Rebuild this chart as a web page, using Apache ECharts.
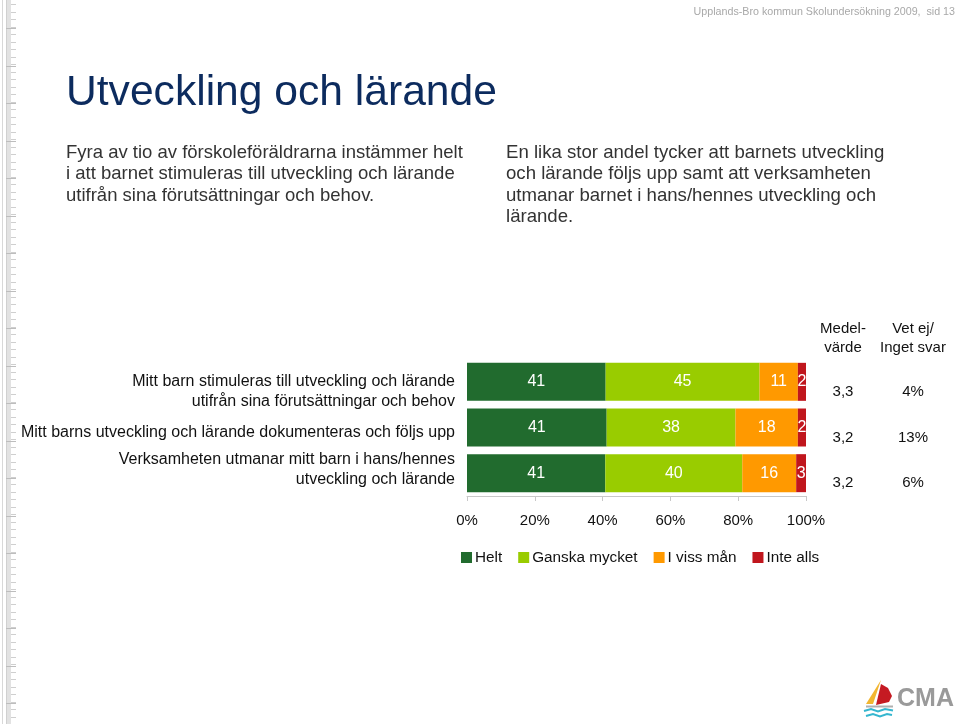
<!DOCTYPE html>
<html>
<head>
<meta charset="utf-8">
<script src="https://cdn.jsdelivr.net/npm/echarts@6/dist/echarts.min.js"></script>
<style>
html,body{margin:0;padding:0;background:#fff;}
#c{width:960px;height:724px;}
</style>
</head>
<body>
<div id="c"></div>
<script>
// ---- data ----
var categories = [
  'Mitt barn stimuleras till utveckling och lärande\nutifrån sina förutsättningar och behov',
  'Mitt barns utveckling och lärande dokumenteras och följs upp',
  'Verksamheten utmanar mitt barn i hans/hennes\nutveckling och lärande'
];
var seriesNames = ['Helt', 'Ganska mycket', 'I viss mån', 'Inte alls'];
var helt = [40.9, 41.2, 40.8];
var ganska = [45.4, 38.0, 40.4];
var vissMan = [11.3, 18.4, 15.9];
var inteAlls = [2.4, 2.4, 2.9];
var medelvarde = ['3,3', '3,2', '3,2'];
var vetEj = ['4%', '13%', '6%'];
var xTicks = [0, 20, 40, 60, 80, 100];

var colors = ['#216B2E', '#99CC00', '#FF9900', '#C0161D'];
var FONT = '"Liberation Sans", Arial, Helvetica, sans-serif';

var chart = echarts.init(document.getElementById('c'), null, {renderer: 'canvas'});

function mkSeries(name, data, idx) {
  return {
    name: name,
    type: 'bar',
    stack: 'total',
    data: data,
    barWidth: 38,
    itemStyle: {color: colors[idx]},
    label: {
      show: true,
      position: 'inside',
      color: '#fff',
      fontSize: 16,
      fontFamily: FONT,
      formatter: function (p) { return Math.round(p.value); }
    },
    emphasis: {disabled: true}
  };
}

// left ruler decoration
var ruler = [];
ruler.push({type: 'line', shape: {x1: 2.5, y1: 0, x2: 2.5, y2: 724}, style: {stroke: '#d8d8d8', lineWidth: 1}});
ruler.push({type: 'line', shape: {x1: 6.5, y1: 0, x2: 6.5, y2: 724}, style: {stroke: '#d0d0d0', lineWidth: 1}});
ruler.push({type: 'rect', shape: {x: 7, y: 0, width: 4, height: 724}, style: {fill: '#e2e2e2'}});
for (var ty = 4; ty < 724; ty += 7.5) {
  ruler.push({type: 'line', shape: {x1: 11, y1: Math.round(ty) + 0.5, x2: 16, y2: Math.round(ty) + 0.5}, style: {stroke: '#cfcfcf', lineWidth: 1}});
}
for (var ly = 28; ly < 724; ly += 37.5) {
  ruler.push({type: 'line', shape: {x1: 6, y1: Math.round(ly) + 0.5, x2: 16, y2: Math.round(ly) + 0.5}, style: {stroke: '#bdbdbd', lineWidth: 1}});
}

// vertical shifts for category labels (spacer line heights: [top, bottom])
var labelSpacers = [[20, 0], [10, 0], [0, 7]];
var richCat = {t: {fontSize: 16, lineHeight: 20, color: '#111', fontFamily: FONT, align: 'right'}};
for (var s = 0; s <= 20; s++) {
  richCat['s' + s] = {lineHeight: s, fontSize: 1, height: s};
}

var option = {
  animation: false,
  backgroundColor: '#fff',
  textStyle: {fontFamily: FONT},
  grid: {left: 467, right: 154, top: 359, bottom: 228, containLabel: false},
  legend: {
    data: seriesNames,
    left: 461,
    top: 550,
    padding: 0,
    itemWidth: 11,
    itemHeight: 11,
    itemGap: 16,
    icon: 'rect',
    textStyle: {fontSize: 15.3, color: '#111', fontFamily: FONT, padding: [0, 0, 0, -2]},
    selectedMode: false
  },
  xAxis: {
    type: 'value',
    min: 0,
    max: 100,
    interval: 20,
    axisLine: {show: true, lineStyle: {color: '#c8c8c8'}},
    axisTick: {show: true, length: 5, lineStyle: {color: '#c8c8c8'}},
    splitLine: {show: false},
    axisLabel: {
      margin: 17,
      fontSize: 15,
      color: '#111',
      fontFamily: FONT,
      formatter: function (v) { return xTicks.indexOf(v) >= 0 ? v + '%' : ''; }
    }
  },
  yAxis: [{
    type: 'category',
    inverse: true,
    data: categories,
    axisLine: {show: false},
    axisTick: {show: false},
    axisLabel: {
      margin: 12,
      align: 'right',
      fontFamily: FONT,
      formatter: function (v, i) {
        var sp = labelSpacers[i];
        var parts = [];
        if (sp[0]) parts.push('{s' + sp[0] + '|}');
        v.split('\n').forEach(function (ln) { parts.push('{t|' + ln + '}'); });
        if (sp[1]) parts.push('{s' + sp[1] + '|}');
        return parts.join('\n');
      },
      rich: richCat
    }
  }, {
    type: 'category',
    inverse: true,
    position: 'right',
    data: categories.map(function (c, i) { return i; }),
    axisLine: {show: false},
    axisTick: {show: false},
    axisLabel: {
      margin: 2,
      formatter: function (v) { return '{a|' + medelvarde[v] + '}{b|' + vetEj[v] + '}'; },
      padding: [20, 0, 0, 0],
      rich: {
        a: {width: 70, align: 'center', fontSize: 15, color: '#111', fontFamily: FONT},
        b: {width: 70, align: 'center', fontSize: 15, color: '#111', fontFamily: FONT}
      }
    }
  }],
  series: [
    mkSeries(seriesNames[0], helt, 0),
    mkSeries(seriesNames[1], ganska, 1),
    mkSeries(seriesNames[2], vissMan, 2),
    mkSeries(seriesNames[3], inteAlls, 3)
  ],
  graphic: ruler.concat([
    {type: 'text', right: 5, top: 7, style: {text: 'Upplands-Bro kommun Skolundersökning 2009,  sid 13', fill: '#a8a8a8', fontSize: 10.7, fontFamily: FONT}},
    {type: 'text', left: 66, top: 72, style: {text: 'Utveckling och lärande', fill: '#0C2B5E', fontSize: 42.6, fontFamily: FONT}},
    {type: 'text', left: 66, top: 142, style: {text: 'Fyra av tio av förskoleföräldrarna instämmer helt\ni att barnet stimuleras till utveckling och lärande\nutifrån sina förutsättningar och behov.', fill: '#333', fontSize: 18.5, lineHeight: 21.5, fontFamily: FONT}},
    {type: 'text', left: 506, top: 142, style: {text: 'En lika stor andel tycker att barnets utveckling\noch lärande följs upp samt att verksamheten\nutmanar barnet i hans/hennes utveckling och\nlärande.', fill: '#333', fontSize: 18.6, lineHeight: 21.5, fontFamily: FONT}},
    {type: 'text', x: 843, y: 319, style: {text: 'Medel-\nvärde', fill: '#111', fontSize: 15, lineHeight: 19, align: 'center', fontFamily: FONT}},
    {type: 'text', x: 913, y: 319, style: {text: 'Vet ej/\nInget svar', fill: '#111', fontSize: 15, lineHeight: 19, align: 'center', fontFamily: FONT}},
    // logo
    {type: 'polygon', shape: {points: [[881, 680], [866, 704], [873, 704]]}, style: {fill: '#F2B630'}},
    {type: 'polygon', shape: {points: [[881, 684], [888, 688], [892, 696], [889, 702], [876, 705]]}, style: {fill: '#C51A22'}},
    {type: 'line', shape: {x1: 866, y1: 706.5, x2: 893, y2: 706.5}, style: {stroke: '#b0b0b0', lineWidth: 2}},
    {type: 'polyline', shape: {points: [[864, 711], [871, 709], [878, 711.5], [885, 709], [893, 710.5]]}, style: {stroke: '#35B6CF', lineWidth: 2, fill: null}},
    {type: 'polyline', shape: {points: [[866, 716], [873, 714], [880, 716.5], [887, 714], [892, 715]]}, style: {stroke: '#35B6CF', lineWidth: 2, fill: null}},
    {type: 'text', left: 897, top: 687, style: {text: 'CMA', fill: '#9a9a9a', fontSize: 25, fontWeight: 'bold', fontFamily: FONT}}
  ])
};
chart.setOption(option);
</script>
</body>
</html>
